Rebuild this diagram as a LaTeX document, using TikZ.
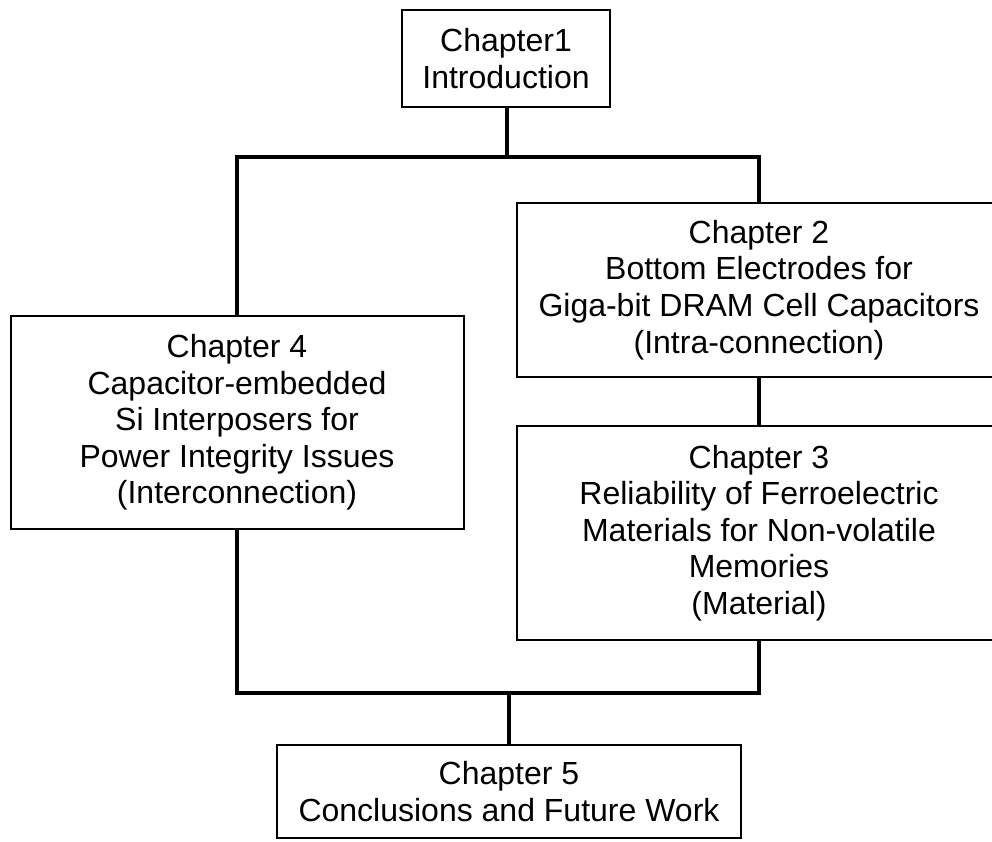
\documentclass[tikz,border=0pt]{standalone}
\usepackage{fontspec}
\setmainfont{Liberation Sans}
\usepackage{tikz}

\begin{document}
\begin{tikzpicture}[x=1pt, y=-1pt,
                    chapbox/.style={draw, line width=2pt, fill=white,
                                  align=center, inner sep=0pt,
                                  font=\fontsize{32}{36.6}\selectfont},
                    link/.style={line width=3.5pt, line join=miter}]
                      \clip (0,0) rectangle (992,842);
                      \fill[white] (0,0) rectangle (992,842);

                      % connectors
                      \coordinate (split) at (507,157);
                      \coordinate (merge) at (509,693);
                      \node[minimum width=208pt, minimum height=97pt] (intro) at (506,58.5) {};
                      \node[minimum width=453pt, minimum height=213pt] (ch4) at (237,422.5) {};
                      \node[minimum width=484pt, minimum height=174pt] (ch2) at (759,290) {};
                      \node[minimum width=484pt, minimum height=214pt] (ch3) at (759,533) {};
                      \node[minimum width=464pt, minimum height=93pt] (ch5) at (509,791.5) {};

                      \draw[link] (intro.south -| split) -- (split);
                      \draw[link] (ch4.north) |- (split) -| (ch2.north);
                      \draw[link] (ch2.south) -- (ch3.north);
                      \draw[link] (ch4.south) |- (merge) -| (ch3.south);
                      \draw[link] (merge) -- (ch5.north);

                      % boxes
                      \node[chapbox, minimum width=208pt, minimum height=97pt] at (intro)
                          {Chapter1\\Introduction};
                      \node[chapbox, minimum width=453pt, minimum height=213pt] at (ch4)
                          {Chapter 4\\Capacitor-embedded\\Si Interposers for\\Power Integrity Issues\\(Interconnection)};
                      \node[chapbox, minimum width=484pt, minimum height=174pt] at (ch2)
                          {Chapter 2\\Bottom Electrodes for\\Giga-bit DRAM Cell Capacitors\\(Intra-connection)};
                      \node[chapbox, minimum width=484pt, minimum height=214pt] at (ch3)
                          {Chapter 3\\Reliability of Ferroelectric\\Materials for Non-volatile\\Memories\\(Material)};
                      \node[chapbox, minimum width=464pt, minimum height=93pt] at (ch5)
                          {Chapter 5\\Conclusions and Future Work};
                  \end{tikzpicture}
\end{document}
